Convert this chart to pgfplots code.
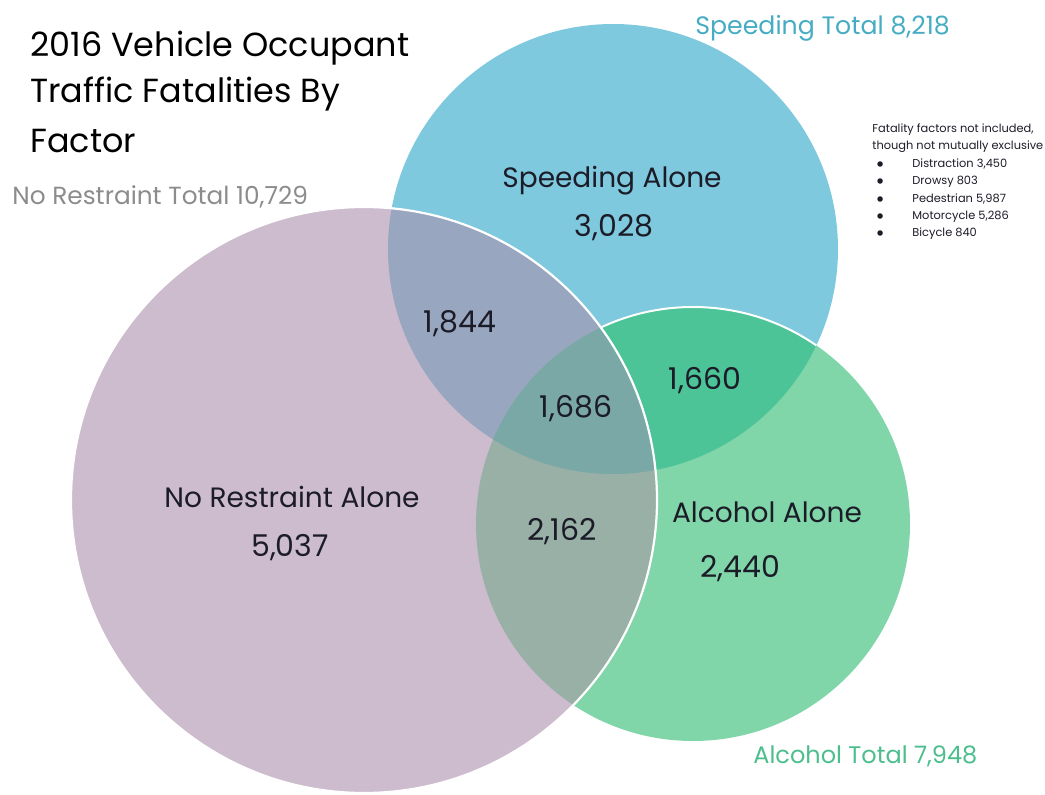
\documentclass[border=0pt]{standalone}
\usepackage{pgfplots}
\usepackage{pgfplotstable}
\pgfplotsset{compat=1.18}
\usepackage{fontspec}
\setmainfont{Poppins}
\definecolor{cPurple}{RGB}{205,188,205}
\definecolor{cBlue}{RGB}{126,201,222}
\definecolor{cGreen}{RGB}{128,214,168}
\definecolor{cBG}{RGB}{76,196,152}
\definecolor{cBP}{RGB}{152,166,192}
\definecolor{cPG}{RGB}{152,176,166}
\definecolor{cBPG}{RGB}{122,168,166}
\definecolor{cTxt}{RGB}{28,28,40}
\definecolor{cGray}{RGB}{140,140,140}
\definecolor{cTeal}{RGB}{70,172,195}
\definecolor{cAlc}{RGB}{76,190,142}
% circles in picture units (1045 x 794 canvas, y upwards)
\pgfplotstableread{
name   cx   cy   r
blue   613  545  225
green  693  270  217
purple 364  294  293
}\circles
\tikzset{lab/.style={anchor=base, inner sep=0pt, text=cTxt, font=\fontsize{14}{16}\selectfont},
         num/.style={anchor=base, inner sep=0pt, text=cTxt, font=\fontsize{15}{17}\selectfont},
         fn/.style={anchor=base west, inner sep=0pt, text=cTxt, font=\fontsize{5.7}{7}\selectfont}}
\begin{document}
\begin{tikzpicture}
\pgfplotstablegetelem{0}{cx}\of\circles\edef\Bx{\pgfplotsretval}
\pgfplotstablegetelem{0}{cy}\of\circles\edef\By{\pgfplotsretval}
\pgfplotstablegetelem{0}{r}\of\circles\edef\Br{\pgfplotsretval}
\pgfplotstablegetelem{1}{cx}\of\circles\edef\Gx{\pgfplotsretval}
\pgfplotstablegetelem{1}{cy}\of\circles\edef\Gy{\pgfplotsretval}
\pgfplotstablegetelem{1}{r}\of\circles\edef\Gr{\pgfplotsretval}
\pgfplotstablegetelem{2}{cx}\of\circles\edef\Px{\pgfplotsretval}
\pgfplotstablegetelem{2}{cy}\of\circles\edef\Py{\pgfplotsretval}
\pgfplotstablegetelem{2}{r}\of\circles\edef\Pr{\pgfplotsretval}
\useasboundingbox (0,0) rectangle (522.5pt,397pt);
\begin{axis}[
  at={(0,0)}, anchor=south west,
  x=0.5pt, y=0.5pt,
  xmin=0, xmax=1045, ymin=0, ymax=794,
  hide axis, clip=true,
]
% base circles and overlaps
\fill[cBlue] (axis cs:\Bx,\By) circle[radius=\Br];
\fill[cGreen] (axis cs:\Gx,\Gy) circle[radius=\Gr];
\begin{scope}
  \clip (axis cs:\Bx,\By) circle[radius=\Br];
  \fill[cBG] (axis cs:\Gx,\Gy) circle[radius=\Gr];
  \draw[white, line width=1pt] (axis cs:\Gx,\Gy) circle[radius=\Gr];
\end{scope}
\fill[cPurple] (axis cs:\Px,\Py) circle[radius=\Pr];
\begin{scope}
  \clip (axis cs:\Px,\Py) circle[radius=\Pr];
  \fill[cBP] (axis cs:\Bx,\By) circle[radius=\Br];
  \fill[cPG] (axis cs:\Gx,\Gy) circle[radius=\Gr];
  \clip (axis cs:\Bx,\By) circle[radius=\Br];
  \fill[cBPG] (axis cs:\Gx,\Gy) circle[radius=\Gr];
\end{scope}
\draw[white, line width=1.1pt] (axis cs:\Px,\Py) circle[radius=\Pr];
% title
\node[anchor=base west, inner sep=0pt, font=\fontsize{16.7}{20}\selectfont, text=black] at (axis cs:30,737) {2016 Vehicle Occupant};
\node[anchor=base west, inner sep=0pt, font=\fontsize{16.7}{20}\selectfont, text=black] at (axis cs:30,691) {Traffic Fatalities By};
\node[anchor=base west, inner sep=0pt, font=\fontsize{16.7}{20}\selectfont, text=black] at (axis cs:30,641) {Factor};
% totals
\node[anchor=base west, inner sep=0pt, font=\fontsize{12.4}{14}\selectfont, text=cGray] at (axis cs:12,589) {No Restraint Total 10,729};
\node[anchor=base west, inner sep=0pt, font=\fontsize{12.6}{14}\selectfont, text=cTeal] at (axis cs:695,759) {Speeding Total 8,218};
\node[anchor=base west, inner sep=0pt, font=\fontsize{12}{14}\selectfont, text=cAlc] at (axis cs:753,31) {Alcohol Total 7,948};
% footnote
\node[fn] at (axis cs:872,661) {Fatality factors not included,};
\node[fn] at (axis cs:872,644) {though not mutually exclusive};
\node[fn] at (axis cs:876,626) {$\bullet$};
\node[fn] at (axis cs:876,609) {$\bullet$};
\node[fn] at (axis cs:876,591) {$\bullet$};
\node[fn] at (axis cs:876,574) {$\bullet$};
\node[fn] at (axis cs:876,557) {$\bullet$};
\node[fn] at (axis cs:912,626) {Distraction 3,450};
\node[fn] at (axis cs:912,609) {Drowsy 803};
\node[fn] at (axis cs:912,591) {Pedestrian 5,987};
\node[fn] at (axis cs:912,574) {Motorcycle 5,286};
\node[fn] at (axis cs:912,557) {Bicycle 840};
% region labels
\node[lab] at (axis cs:612,606) {Speeding Alone};
\node[num] at (axis cs:614,557) {3,028};
\node[num] at (axis cs:460,461) {1,844};
\node[num] at (axis cs:705,404) {1,660};
\node[num] at (axis cs:576,377) {1,686};
\node[lab] at (axis cs:292,287) {No Restraint Alone};
\node[num] at (axis cs:290,238) {5,037};
\node[num] at (axis cs:562,254) {2,162};
\node[lab] at (axis cs:767,271) {Alcohol Alone};
\node[num] at (axis cs:740,217) {2,440};
\end{axis}
\end{tikzpicture}
\end{document}
